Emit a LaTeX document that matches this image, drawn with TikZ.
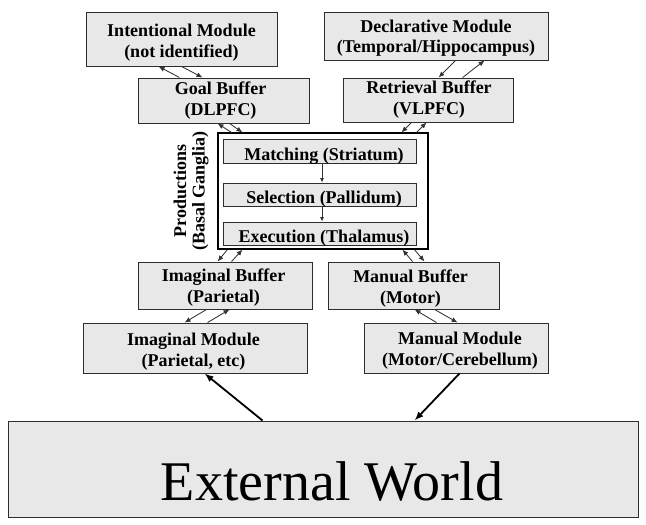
\documentclass[tikz,border=0pt]{standalone}
\usepackage{fontspec}
\setmainfont{Liberation Serif}
\usetikzlibrary{arrows.meta,calc}
\definecolor{boxfill}{RGB}{232,232,232}
\definecolor{boxline}{RGB}{45,45,45}
\begin{document}
\begin{tikzpicture}[x=1pt,y=-1pt,
  box/.style={draw=boxline,fill=boxfill,line width=0.9pt,inner sep=0pt},
  txt/.style={font=\bfseries\fontsize{18}{21}\selectfont,align=center,inner sep=0pt},
  sa/.style={draw=black!80,line width=0.85pt,-{Latex[length=6pt,width=5pt]}},
  ia/.style={draw=black!80,line width=0.7pt,-{Latex[length=4.5pt,width=4pt]}},
  ba/.style={draw=black,line width=1.8pt,-{Latex[length=9pt,width=7pt]}}]
\useasboundingbox (0,0) rectangle (646,525);
% boxes
\node[box,minimum width=191pt,minimum height=54pt,
  label={[txt,yshift=-4pt]center:{Intentional Module\\(not identified)}}] (intm) at (181.5,39) {};
\node[box,minimum width=224pt,minimum height=48pt,
  label={[txt,font=\bfseries\fontsize{18}{19.5}\selectfont,yshift=-2pt]center:{Declarative Module\\(Temporal/Hippocampus)}}] (decl) at (436,36) {};
\node[box,minimum width=171pt,minimum height=45pt,
  label={[txt,xshift=-3pt]center:{Goal Buffer\\(DLPFC)}}] (goal) at (223.5,100.5) {};
\node[box,minimum width=170pt,minimum height=44pt,
  label={[txt,xshift=1pt]center:{Retrieval Buffer\\(VLPFC)}}] (retr) at (428,100) {};
\node[draw=black,fill=white,line width=1.1pt,inner sep=0pt,minimum width=210pt,minimum height=116pt] (prod) at (323,191) {};
\node[box,minimum width=193pt,minimum height=24pt,
  label={[txt,xshift=4.5pt,yshift=-5pt]center:{Matching (Striatum)}}] (match) at (319.5,151) {};
\node[box,minimum width=193pt,minimum height=23pt,
  label={[txt,xshift=4.5pt,yshift=-4.5pt]center:{Selection (Pallidum)}}] (sel) at (319.5,194.5) {};
\node[box,minimum width=193pt,minimum height=23pt,
  label={[txt,xshift=4.5pt,yshift=-4.5pt]center:{Execution (Thalamus)}}] (exec) at (319.5,233.5) {};
\node[txt,font=\bfseries\fontsize{18}{18.5}\selectfont,rotate=90] (prodlab) at (191,191) {Productions\\(Basal Ganglia)};
\node[box,minimum width=174pt,minimum height=47pt,
  label={[txt,xshift=-1.5pt,yshift=-2pt]center:{Imaginal Buffer\\(Parietal)}}] (imgb) at (225,285.5) {};
\node[box,minimum width=171pt,minimum height=47pt,
  label={[txt,xshift=-3pt,yshift=-3pt]center:{Manual Buffer\\(Motor)}}] (manb) at (413.5,285.5) {};
\node[box,minimum width=224pt,minimum height=50pt,
  label={[txt,xshift=-1.5pt,yshift=-4pt]center:{Imaginal Module\\(Parietal, etc)}}] (imgm) at (195,348) {};
\node[box,minimum width=184pt,minimum height=50pt,
  label={[txt,xshift=4pt,yshift=-3pt]center:{Manual Module\\(Motor/Cerebellum)}}] (manm) at (456,348) {};
\node[box,minimum width=630pt,minimum height=96pt,
  label={[inner sep=0pt,font=\fontsize{56}{60}\selectfont,xshift=9pt,yshift=-12pt]center:{External World}}] (ext) at (323,469) {};
% small double arrows
\draw[sa] ([xshift=42pt]goal.north west) -- ([xshift=73pt]intm.south west);
\draw[sa] ([xshift=96pt]intm.south west) -- ([xshift=65pt]goal.north west);
\draw[sa] ([xshift=14pt]prod.north west) -- ([xshift=80pt]goal.south west);
\draw[sa] ([xshift=92pt]goal.south west) -- ([xshift=25pt]prod.north west);
\draw[sa] ([xshift=132pt]decl.south west) -- ([xshift=96pt]retr.north west);
\draw[sa] ([xshift=120pt]retr.north west) -- ([xshift=161pt]decl.south west);
\draw[sa] ([xshift=69pt]retr.south west) -- ([xshift=184pt]prod.north west);
\draw[sa] ([xshift=199pt]prod.north west) -- ([xshift=84pt]retr.south west);
\draw[sa] ([xshift=10pt]prod.south west) -- ([xshift=80pt]imgb.north west);
\draw[sa] ([xshift=94pt]imgb.north west) -- ([xshift=25pt]prod.south west);
\draw[sa] ([xshift=85pt]manb.north west) -- ([xshift=185pt]prod.south west);
\draw[sa] ([xshift=197pt]prod.south west) -- ([xshift=97pt]manb.north west);
\draw[sa] ([xshift=69pt]imgb.south west) -- ([xshift=102pt]imgm.north west);
\draw[sa] ([xshift=125pt]imgm.north west) -- ([xshift=92pt]imgb.south west);
\draw[sa] ([xshift=73pt]manm.north west) -- ([xshift=87pt]manb.south west);
\draw[sa] ([xshift=107pt]manb.south west) -- ([xshift=94pt]manm.north west);
% inner production arrows
\draw[ia] ([xshift=2.5pt]match.south) -- ([xshift=2.5pt]sel.north);
\draw[ia] ([xshift=2.5pt]sel.south) -- ([xshift=2.5pt]exec.north);
% big arrows
\draw[ba] ([xshift=255pt]ext.north west) -- ([xshift=122pt]imgm.south west);
\draw[ba] ([xshift=96pt]manm.south west) -- ([xshift=407pt]ext.north west);
\end{tikzpicture}
\end{document}
